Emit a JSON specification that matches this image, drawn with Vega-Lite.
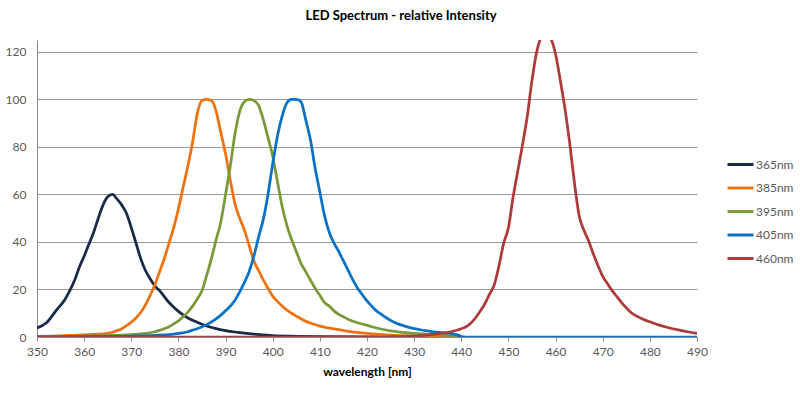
{
"$schema":"https://vega.github.io/schema/vega-lite/v6.json",
"width":660,"height":297,
"autosize":{"type":"none"},
"padding":{"left":37,"top":40,"right":103,"bottom":58},
"background":"white",
"config":{"view":{"stroke":null},"font":"Lato"},
"title":{"text":"LED Spectrum - relative Intensity","fontSize":13,"fontWeight":"bold","font":"Lato","color":"#000","anchor":"middle","dx":34,"offset":17},
"data":{"values":[
{"s":"365nm","wl":350,"v":3.8},{"s":"365nm","wl":352,"v":6},{"s":"365nm","wl":354,"v":11},{"s":"365nm","wl":356,"v":16},{"s":"365nm","wl":357,"v":19.7},{"s":"365nm","wl":358,"v":24},{"s":"365nm","wl":359,"v":29.5},{"s":"365nm","wl":360,"v":34},{"s":"365nm","wl":361,"v":39},{"s":"365nm","wl":362,"v":44},{"s":"365nm","wl":363,"v":50},{"s":"365nm","wl":364,"v":55.5},{"s":"365nm","wl":365,"v":59},{"s":"365nm","wl":366,"v":60},{"s":"365nm","wl":367,"v":58},{"s":"365nm","wl":368,"v":55.5},{"s":"365nm","wl":369,"v":52},{"s":"365nm","wl":370,"v":46},{"s":"365nm","wl":371,"v":39.5},{"s":"365nm","wl":372,"v":33},{"s":"365nm","wl":373,"v":28},{"s":"365nm","wl":374,"v":24.5},{"s":"365nm","wl":375,"v":21.5},{"s":"365nm","wl":376,"v":19.5},{"s":"365nm","wl":378,"v":14.5},{"s":"365nm","wl":380,"v":10.8},{"s":"365nm","wl":382,"v":8},{"s":"365nm","wl":384,"v":6.2},{"s":"365nm","wl":386,"v":4.6},{"s":"365nm","wl":388,"v":3.5},{"s":"365nm","wl":390,"v":2.7},{"s":"365nm","wl":392,"v":2.1},{"s":"365nm","wl":394,"v":1.6},{"s":"365nm","wl":396,"v":1.2},{"s":"365nm","wl":398,"v":0.9},{"s":"365nm","wl":400,"v":0.6},{"s":"365nm","wl":405,"v":0.3},{"s":"365nm","wl":410,"v":0.15},{"s":"365nm","wl":420,"v":0.05},{"s":"365nm","wl":430,"v":0},{"s":"365nm","wl":440,"v":0},
{"s":"385nm","wl":350,"v":0.3},{"s":"385nm","wl":355,"v":0.5},{"s":"385nm","wl":360,"v":0.9},{"s":"385nm","wl":363,"v":1.2},{"s":"385nm","wl":365,"v":1.5},{"s":"385nm","wl":366,"v":2},{"s":"385nm","wl":367,"v":2.7},{"s":"385nm","wl":368,"v":3.5},{"s":"385nm","wl":369,"v":4.8},{"s":"385nm","wl":370,"v":6.2},{"s":"385nm","wl":371,"v":8},{"s":"385nm","wl":372,"v":10.3},{"s":"385nm","wl":373,"v":13.5},{"s":"385nm","wl":374,"v":17.5},{"s":"385nm","wl":375,"v":22},{"s":"385nm","wl":376,"v":27.5},{"s":"385nm","wl":377,"v":33},{"s":"385nm","wl":378,"v":39.5},{"s":"385nm","wl":379,"v":46},{"s":"385nm","wl":380,"v":54},{"s":"385nm","wl":381,"v":63},{"s":"385nm","wl":382,"v":72},{"s":"385nm","wl":383,"v":82},{"s":"385nm","wl":384,"v":94},{"s":"385nm","wl":385,"v":99.5},{"s":"385nm","wl":386,"v":100},{"s":"385nm","wl":387,"v":99.5},{"s":"385nm","wl":388,"v":95},{"s":"385nm","wl":389,"v":86},{"s":"385nm","wl":390,"v":77},{"s":"385nm","wl":391,"v":66},{"s":"385nm","wl":392,"v":56},{"s":"385nm","wl":393,"v":50},{"s":"385nm","wl":394,"v":45},{"s":"385nm","wl":395,"v":38.5},{"s":"385nm","wl":396,"v":32},{"s":"385nm","wl":397,"v":28},{"s":"385nm","wl":398,"v":24},{"s":"385nm","wl":399,"v":20.5},{"s":"385nm","wl":400,"v":17.2},{"s":"385nm","wl":401,"v":15},{"s":"385nm","wl":402,"v":13},{"s":"385nm","wl":403,"v":11.3},{"s":"385nm","wl":404,"v":10},{"s":"385nm","wl":405,"v":8.8},{"s":"385nm","wl":407,"v":6.6},{"s":"385nm","wl":410,"v":4.6},{"s":"385nm","wl":413,"v":3.4},{"s":"385nm","wl":416,"v":2.4},{"s":"385nm","wl":420,"v":1.5},{"s":"385nm","wl":425,"v":0.8},{"s":"385nm","wl":430,"v":0.5},{"s":"385nm","wl":435,"v":0.3},{"s":"385nm","wl":440,"v":0.1},
{"s":"395nm","wl":350,"v":0.2},{"s":"395nm","wl":360,"v":0.4},{"s":"395nm","wl":365,"v":0.6},{"s":"395nm","wl":370,"v":1},{"s":"395nm","wl":373,"v":1.5},{"s":"395nm","wl":375,"v":2.2},{"s":"395nm","wl":376,"v":2.8},{"s":"395nm","wl":377,"v":3.5},{"s":"395nm","wl":378,"v":4.3},{"s":"395nm","wl":379,"v":5.5},{"s":"395nm","wl":380,"v":6.8},{"s":"395nm","wl":381,"v":8.5},{"s":"395nm","wl":382,"v":10.5},{"s":"395nm","wl":383,"v":13},{"s":"395nm","wl":384,"v":16},{"s":"395nm","wl":385,"v":19.5},{"s":"395nm","wl":386,"v":26},{"s":"395nm","wl":387,"v":33},{"s":"395nm","wl":388,"v":41},{"s":"395nm","wl":389,"v":48.5},{"s":"395nm","wl":390,"v":60},{"s":"395nm","wl":391,"v":72},{"s":"395nm","wl":392,"v":85.5},{"s":"395nm","wl":393,"v":95},{"s":"395nm","wl":394,"v":99},{"s":"395nm","wl":395,"v":100},{"s":"395nm","wl":396,"v":99.5},{"s":"395nm","wl":397,"v":97.5},{"s":"395nm","wl":398,"v":91.5},{"s":"395nm","wl":399,"v":84},{"s":"395nm","wl":400,"v":76},{"s":"395nm","wl":401,"v":65.5},{"s":"395nm","wl":402,"v":55},{"s":"395nm","wl":403,"v":47},{"s":"395nm","wl":404,"v":41},{"s":"395nm","wl":405,"v":36},{"s":"395nm","wl":406,"v":31},{"s":"395nm","wl":407,"v":27.5},{"s":"395nm","wl":408,"v":24},{"s":"395nm","wl":409,"v":20.5},{"s":"395nm","wl":410,"v":17.5},{"s":"395nm","wl":411,"v":14.5},{"s":"395nm","wl":412,"v":13},{"s":"395nm","wl":413,"v":11},{"s":"395nm","wl":414,"v":9.5},{"s":"395nm","wl":415,"v":8.5},{"s":"395nm","wl":416,"v":7.5},{"s":"395nm","wl":418,"v":6},{"s":"395nm","wl":420,"v":4.9},{"s":"395nm","wl":422,"v":3.8},{"s":"395nm","wl":425,"v":2.6},{"s":"395nm","wl":430,"v":1.5},{"s":"395nm","wl":435,"v":0.9},{"s":"395nm","wl":440,"v":0.5},
{"s":"405nm","wl":350,"v":0.1},{"s":"405nm","wl":360,"v":0.2},{"s":"405nm","wl":370,"v":0.4},{"s":"405nm","wl":375,"v":0.7},{"s":"405nm","wl":378,"v":1},{"s":"405nm","wl":380,"v":1.5},{"s":"405nm","wl":382,"v":2.2},{"s":"405nm","wl":383,"v":2.9},{"s":"405nm","wl":384,"v":3.5},{"s":"405nm","wl":386,"v":5.2},{"s":"405nm","wl":388,"v":7.6},{"s":"405nm","wl":389,"v":9.2},{"s":"405nm","wl":390,"v":11},{"s":"405nm","wl":391,"v":13},{"s":"405nm","wl":392,"v":15.5},{"s":"405nm","wl":393,"v":19},{"s":"405nm","wl":394,"v":23},{"s":"405nm","wl":395,"v":27.5},{"s":"405nm","wl":396,"v":34},{"s":"405nm","wl":397,"v":42},{"s":"405nm","wl":398,"v":49.5},{"s":"405nm","wl":399,"v":60},{"s":"405nm","wl":400,"v":73},{"s":"405nm","wl":401,"v":84.5},{"s":"405nm","wl":402,"v":93},{"s":"405nm","wl":403,"v":98.5},{"s":"405nm","wl":404,"v":100},{"s":"405nm","wl":405,"v":100},{"s":"405nm","wl":406,"v":99},{"s":"405nm","wl":407,"v":91.5},{"s":"405nm","wl":408,"v":83},{"s":"405nm","wl":409,"v":71},{"s":"405nm","wl":410,"v":61},{"s":"405nm","wl":411,"v":51},{"s":"405nm","wl":412,"v":44},{"s":"405nm","wl":413,"v":39.5},{"s":"405nm","wl":414,"v":36},{"s":"405nm","wl":415,"v":32},{"s":"405nm","wl":416,"v":28},{"s":"405nm","wl":417,"v":24},{"s":"405nm","wl":418,"v":20.5},{"s":"405nm","wl":419,"v":17.8},{"s":"405nm","wl":420,"v":15.2},{"s":"405nm","wl":421,"v":13},{"s":"405nm","wl":422,"v":11},{"s":"405nm","wl":423,"v":9.6},{"s":"405nm","wl":424,"v":8.2},{"s":"405nm","wl":425,"v":7},{"s":"405nm","wl":426,"v":6},{"s":"405nm","wl":428,"v":4.6},{"s":"405nm","wl":430,"v":3.5},{"s":"405nm","wl":432,"v":2.8},{"s":"405nm","wl":434,"v":2.2},{"s":"405nm","wl":436,"v":1.8},{"s":"405nm","wl":438,"v":1.4},{"s":"405nm","wl":439,"v":1},{"s":"405nm","wl":440,"v":0.2},{"s":"405nm","wl":441,"v":0},{"s":"405nm","wl":450,"v":0},{"s":"405nm","wl":460,"v":0},{"s":"405nm","wl":470,"v":0},{"s":"405nm","wl":480,"v":0},{"s":"405nm","wl":490,"v":0},
{"s":"460nm","wl":350,"v":0},{"s":"460nm","wl":360,"v":0},{"s":"460nm","wl":370,"v":0},{"s":"460nm","wl":380,"v":0},{"s":"460nm","wl":390,"v":0},{"s":"460nm","wl":400,"v":0},{"s":"460nm","wl":410,"v":0},{"s":"460nm","wl":420,"v":0},{"s":"460nm","wl":425,"v":0.1},{"s":"460nm","wl":430,"v":0.4},{"s":"460nm","wl":432,"v":0.7},{"s":"460nm","wl":434,"v":1.1},{"s":"460nm","wl":436,"v":1.6},{"s":"460nm","wl":438,"v":2.3},{"s":"460nm","wl":440,"v":3.5},{"s":"460nm","wl":441,"v":4.3},{"s":"460nm","wl":442,"v":5.8},{"s":"460nm","wl":443,"v":8},{"s":"460nm","wl":444,"v":10.8},{"s":"460nm","wl":445,"v":14},{"s":"460nm","wl":446,"v":18},{"s":"460nm","wl":447,"v":22},{"s":"460nm","wl":448,"v":30},{"s":"460nm","wl":449,"v":39.5},{"s":"460nm","wl":450,"v":46},{"s":"460nm","wl":451,"v":59},{"s":"460nm","wl":452,"v":70},{"s":"460nm","wl":453,"v":81},{"s":"460nm","wl":454,"v":93},{"s":"460nm","wl":455,"v":108},{"s":"460nm","wl":456,"v":120},{"s":"460nm","wl":457,"v":126},{"s":"460nm","wl":458,"v":127},{"s":"460nm","wl":459,"v":125.5},{"s":"460nm","wl":460,"v":119},{"s":"460nm","wl":461,"v":108},{"s":"460nm","wl":462,"v":96},{"s":"460nm","wl":463,"v":81.5},{"s":"460nm","wl":464,"v":65},{"s":"460nm","wl":465,"v":51},{"s":"460nm","wl":466,"v":45},{"s":"460nm","wl":467,"v":40.5},{"s":"460nm","wl":468,"v":35},{"s":"460nm","wl":469,"v":30},{"s":"460nm","wl":470,"v":25.5},{"s":"460nm","wl":471,"v":22.5},{"s":"460nm","wl":472,"v":19.5},{"s":"460nm","wl":473,"v":17},{"s":"460nm","wl":474,"v":14.5},{"s":"460nm","wl":475,"v":12.3},{"s":"460nm","wl":476,"v":10.3},{"s":"460nm","wl":477,"v":9},{"s":"460nm","wl":478,"v":8},{"s":"460nm","wl":479,"v":7.1},{"s":"460nm","wl":480,"v":6.4},{"s":"460nm","wl":482,"v":5},{"s":"460nm","wl":484,"v":3.9},{"s":"460nm","wl":486,"v":3},{"s":"460nm","wl":488,"v":2.2},{"s":"460nm","wl":490,"v":1.5}
]},
"mark":{"type":"line","strokeWidth":2.75,"clip":true,"interpolate":"monotone"},
"encoding":{
"x":{"field":"wl","type":"quantitative","scale":{"domain":[350,490],"nice":false,"zero":false},
"axis":{"values":[350,360,370,380,390,400,410,420,430,440,450,460,470,480,490],"title":"wavelength [nm]","grid":false,"domainColor":"#888","tickColor":"#888","tickSize":4,"labelFontSize":12,"labelColor":"#595959","titleFontSize":12,"titleFontWeight":"bold","titleColor":"#000","labelPadding":5,"titlePadding":9,"labelFlush":false}},
"y":{"field":"v","type":"quantitative","scale":{"domain":[0,125],"nice":false},
"axis":{"values":[0,20,40,60,80,100,120],"title":null,"grid":true,"gridColor":"#999","domainColor":"#888","ticks":false,"labelFontSize":12,"labelColor":"#595959","labelPadding":11}},
"color":{"field":"s","type":"nominal","scale":{"domain":["365nm","385nm","395nm","405nm","460nm"],"range":["#182a45","#ee720f","#7a9a3a","#0a72c4","#ad3b3b"]},
"legend":{"orient":"none","legendX":689,"legendY":110,"title":null,"symbolType":"stroke","symbolSize":676,"symbolStrokeWidth":3,"labelFontSize":12,"labelColor":"#595959","labelOffset":1,"rowPadding":2.5,"padding":0}}
}
}
